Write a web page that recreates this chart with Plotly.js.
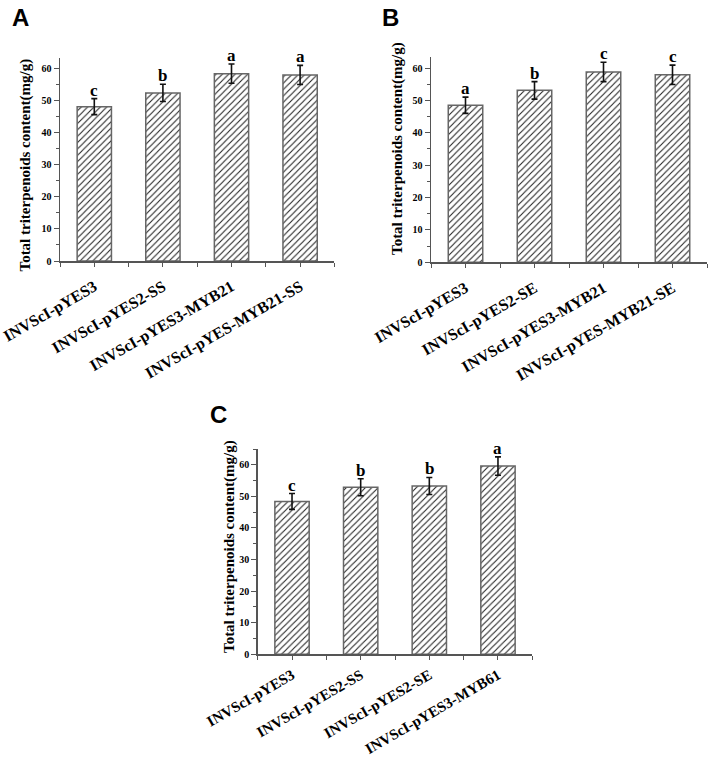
<!DOCTYPE html>
<html>
<head>
<meta charset="utf-8">
<script src="https://cdn.plot.ly/plotly-3.0.1.min.js"></script>
<style>
html,body{margin:0;padding:0;background:#fff;}
#chart{width:709px;height:760px;}
</style>
</head>
<body>
<div id="chart"></div>
<script>
// ---- Data ----
const catsA = ['INVScI-pYES3', 'INVScI-pYES2-SS', 'INVScI-pYES3-MYB21', 'INVScI-pYES-MYB21-SS'];
const valuesA = [48.2, 52.5, 58.5, 58.1];
const errA = [2.5, 2.7, 3.0, 3.0];
const lettersA = ['c', 'b', 'a', 'a'];

const catsB = ['INVScI-pYES3', 'INVScI-pYES2-SE', 'INVScI-pYES3-MYB21', 'INVScI-pYES-MYB21-SE'];
const valuesB = [48.5, 53.1, 58.8, 57.9];
const errB = [2.5, 2.7, 3.0, 3.0];
const lettersB = ['a', 'b', 'c', 'c'];

const catsC = ['INVScI-pYES3', 'INVScI-pYES2-SS', 'INVScI-pYES2-SE', 'INVScI-pYES3-MYB61'];
const valuesC = [48.4, 52.9, 53.3, 59.6];
const errC = [2.5, 2.7, 2.7, 2.9];
const lettersC = ['c', 'b', 'b', 'a'];

const yTitle = 'Total triterpenoids content(mg/g)';
const panelLabels = ['A', 'B', 'C'];

// ---- Build ----
const serif = 'Liberation Serif, Times New Roman, serif';
const axisColor = '#555';

function barTrace(vals, errs, xa, ya) {
  return {
    type: 'bar',
    x: vals.map((_, i) => i),
    y: vals,
    width: 0.5,
    xaxis: xa, yaxis: ya,
    marker: {
      color: '#ffffff',
      line: {color: '#666', width: 1.5},
      pattern: {shape: '/', fgcolor: '#222', bgcolor: '#ffffff', size: 4.5, solidity: 0.24}
    },
    error_y: {type: 'data', array: errs, visible: true, color: '#111', thickness: 1.6, width: 3},
    hoverinfo: 'skip',
    showlegend: false
  };
}

function xAxis(domain, cats, anchor, standoff, fsize) {
  return {
    domain: domain, anchor: anchor,
    range: [-0.5, 3.5], fixedrange: true,
    tickmode: 'array', tickvals: cats.map((_, i) => i), ticktext: cats,
    tickangle: -30,
    ticklabelstandoff: standoff,
    ticks: 'outside', ticklen: 4, tickwidth: 1, tickcolor: axisColor,
    minor: {tickmode: 'array', tickvals: [-0.5, 0.5, 1.5, 2.5, 3.5], ticks: 'outside', ticklen: 4, tickcolor: axisColor, tickwidth: 1},
    showline: true, linecolor: axisColor, linewidth: 1.5,
    showgrid: false, zeroline: false,
    tickfont: {family: serif, size: fsize, color: '#000', weight: 'bold'}
  };
}

function yAxis(domain, range, anchor) {
  return {
    domain: domain, anchor: anchor,
    range: range, fixedrange: true,
    tickmode: 'linear', tick0: 0, dtick: 10,
    ticks: 'outside', ticklen: 5, tickwidth: 1, tickcolor: axisColor,
    minor: {dtick: 5, ticks: 'outside', ticklen: 3, tickcolor: axisColor, tickwidth: 1},
    showline: true, linecolor: axisColor, linewidth: 1.5,
    showgrid: false, zeroline: false,
    tickfont: {family: serif, size: 10, color: '#000', weight: 'bold'}
  };
}

const W = 709, H = 760;
const px = (a, b) => [a / W, b / W];
const py = (top, bottom) => [1 - bottom / H, 1 - top / H];

const data = [
  barTrace(valuesA, errA, 'x', 'y'),
  barTrace(valuesB, errB, 'x2', 'y2'),
  barTrace(valuesC, errC, 'x3', 'y3')
];

const annotations = [];
function addLetters(vals, errs, letters, xref, yref) {
  letters.forEach((t, i) => {
    annotations.push({
      x: i, y: vals[i] + errs[i], xref: xref, yref: yref,
      text: t, showarrow: false, yanchor: 'bottom', xanchor: 'center',
      borderpad: 0, yshift: -2,
      font: {family: serif, size: 17, color: '#000', weight: 'bold'}
    });
  });
}
addLetters(valuesA, errA, lettersA, 'x', 'y');
addLetters(valuesB, errB, lettersB, 'x2', 'y2');
addLetters(valuesC, errC, lettersC, 'x3', 'y3');

// y-axis titles (rotated), centred where the reference draws them
const yTitlePos = [[25.5, 165], [397, 149], [229.5, 546.5]];
yTitlePos.forEach(p => {
  annotations.push({
    x: p[0] / W, y: 1 - p[1] / H, xref: 'paper', yref: 'paper',
    text: yTitle, textangle: -90, showarrow: false,
    xanchor: 'center', yanchor: 'middle', borderpad: 0,
    font: {family: serif, size: 15, color: '#000', weight: 'bold'}
  });
});

const panelPos = [[11, 3], [381, 3], [209, 400]];
panelLabels.forEach((t, i) => {
  annotations.push({
    x: panelPos[i][0] / W, y: 1 - panelPos[i][1] / H, xref: 'paper', yref: 'paper',
    text: t, showarrow: false, xanchor: 'left', yanchor: 'top', borderpad: 0,
    font: {family: 'Liberation Sans, Arial, sans-serif', size: 24, color: '#000', weight: 'bold'}
  });
});

const layout = {
  width: W, height: H,
  margin: {l: 0, r: 0, t: 0, b: 0},
  paper_bgcolor: '#fff', plot_bgcolor: 'rgba(0,0,0,0)',
  showlegend: false,
  bargap: 0,
  xaxis: xAxis(px(60, 334.4), catsA, 'y', 5, 16),
  yaxis: yAxis(py(58.3, 261), [0, 63.3], 'x'),
  xaxis2: xAxis(px(431, 707), catsB, 'y2', 5, 16),
  yaxis2: yAxis(py(56.7, 262.3), [0, 63.5], 'x2'),
  xaxis3: xAxis(px(257.7, 532.3), catsC, 'y3', 1, 15),
  yaxis3: yAxis(py(449, 654.3), [0, 65], 'x3'),
  annotations: annotations
};

Plotly.newPlot('chart', data, layout, {displayModeBar: false, staticPlot: true});
</script>
</body>
</html>
